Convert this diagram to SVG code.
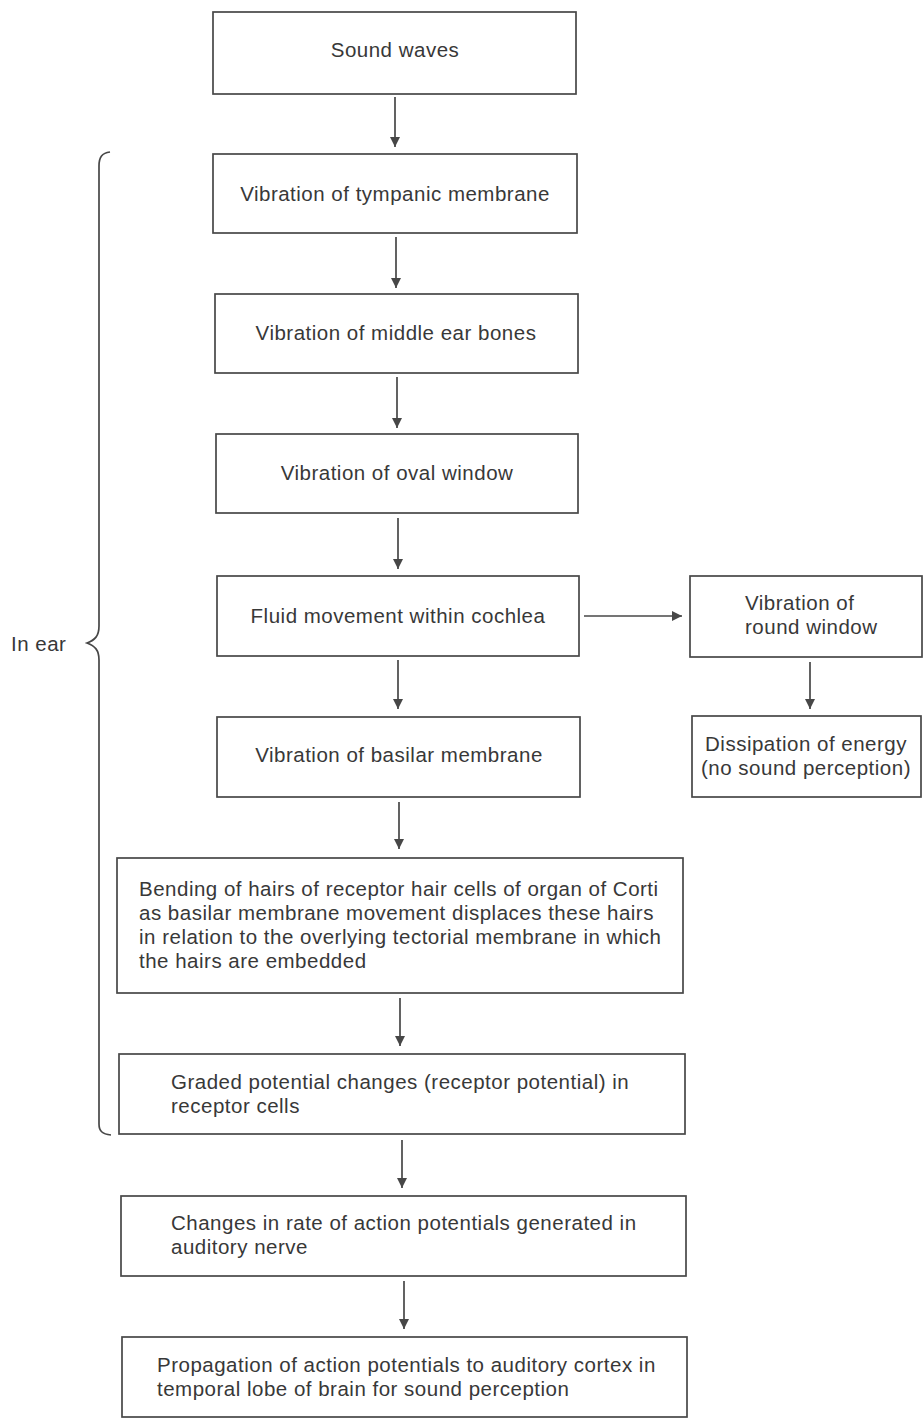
<svg xmlns="http://www.w3.org/2000/svg" width="924" height="1421" viewBox="0 0 924 1421">
<style>
  .box { fill: #ffffff; stroke: #474747; stroke-width: 1.7; }
  .t { font-family: "Liberation Sans", Arial, Helvetica, sans-serif; font-size: 20.5px; letter-spacing: 0.5px; fill: #383838; }
  .c { text-anchor: middle; }
  .conn { stroke: #474747; stroke-width: 1.7; fill: none; }
</style>
<defs>
  <marker id="ah" viewBox="0 0 10 14" refX="10" refY="7" markerWidth="10" markerHeight="14" markerUnits="userSpaceOnUse" orient="auto">
    <path d="M0,2 L10,7 L0,12 Z" fill="#474747"/>
  </marker>
</defs>
<rect width="924" height="1421" fill="#ffffff"/>

<g id="connectors">
  <line class="conn" x1="395" y1="97" x2="395" y2="147" marker-end="url(#ah)"/>
  <line class="conn" x1="396" y1="237" x2="396" y2="288" marker-end="url(#ah)"/>
  <line class="conn" x1="397" y1="377" x2="397" y2="428" marker-end="url(#ah)"/>
  <line class="conn" x1="398" y1="518" x2="398" y2="569" marker-end="url(#ah)"/>
  <line class="conn" x1="398" y1="660" x2="398" y2="709" marker-end="url(#ah)"/>
  <line class="conn" x1="399" y1="802" x2="399" y2="849" marker-end="url(#ah)"/>
  <line class="conn" x1="400" y1="998" x2="400" y2="1046" marker-end="url(#ah)"/>
  <line class="conn" x1="402" y1="1140" x2="402" y2="1188" marker-end="url(#ah)"/>
  <line class="conn" x1="404" y1="1281" x2="404" y2="1329" marker-end="url(#ah)"/>
  <line class="conn" x1="584" y1="616" x2="682" y2="616" marker-end="url(#ah)"/>
  <line class="conn" x1="810" y1="662" x2="810" y2="709" marker-end="url(#ah)"/>
</g>

<g id="brace">
  <path class="conn" d="M110,152 C102,153 99,157 99,166 L99,626 C99,636 95,640 87,643 C95,646 99,650 99,660 L99,1124 C99,1131 102,1134 111,1135"/>
  <text class="t" x="11" y="651">In ear</text>
</g>

<g id="n-sound">
  <rect class="box" x="213" y="12" width="363" height="82"/>
  <text class="t c" x="395" y="57">Sound waves</text>
</g>
<g id="n-tympanic">
  <rect class="box" x="213" y="154" width="364" height="79"/>
  <text class="t c" x="395" y="201">Vibration of tympanic membrane</text>
</g>
<g id="n-middle">
  <rect class="box" x="215" y="294" width="363" height="79"/>
  <text class="t c" x="396" y="340">Vibration of middle ear bones</text>
</g>
<g id="n-oval">
  <rect class="box" x="216" y="434" width="362" height="79"/>
  <text class="t c" x="397" y="480">Vibration of oval window</text>
</g>
<g id="n-fluid">
  <rect class="box" x="217" y="576" width="362" height="80"/>
  <text class="t c" x="398" y="623">Fluid movement within cochlea</text>
</g>
<g id="n-basilar">
  <rect class="box" x="217" y="717" width="363" height="80"/>
  <text class="t c" x="399" y="762">Vibration of basilar membrane</text>
</g>
<g id="n-bending">
  <rect class="box" x="117" y="858" width="566" height="135"/>
  <text class="t" x="139" y="896">Bending of hairs of receptor hair cells of organ of Corti</text>
  <text class="t" x="139" y="920">as basilar membrane movement displaces these hairs</text>
  <text class="t" x="139" y="944">in relation to the overlying tectorial membrane in which</text>
  <text class="t" x="139" y="968">the hairs are embedded</text>
</g>
<g id="n-graded">
  <rect class="box" x="119" y="1054" width="566" height="80"/>
  <text class="t" x="171" y="1089">Graded potential changes (receptor potential) in</text>
  <text class="t" x="171" y="1113">receptor cells</text>
</g>
<g id="n-changes">
  <rect class="box" x="121" y="1196" width="565" height="80"/>
  <text class="t" x="171" y="1230">Changes in rate of action potentials generated in</text>
  <text class="t" x="171" y="1254">auditory nerve</text>
</g>
<g id="n-propagation">
  <rect class="box" x="122" y="1337" width="565" height="80"/>
  <text class="t" x="157" y="1372">Propagation of action potentials to auditory cortex in</text>
  <text class="t" x="157" y="1396">temporal lobe of brain for sound perception</text>
</g>
<g id="n-round">
  <rect class="box" x="690" y="576" width="232" height="81"/>
  <text class="t" x="745" y="610">Vibration of</text>
  <text class="t" x="745" y="634">round window</text>
</g>
<g id="n-dissipation">
  <rect class="box" x="692" y="716" width="229" height="81"/>
  <text class="t c" x="806" y="751">Dissipation of energy</text>
  <text class="t c" x="806" y="775">(no sound perception)</text>
</g>
</svg>
